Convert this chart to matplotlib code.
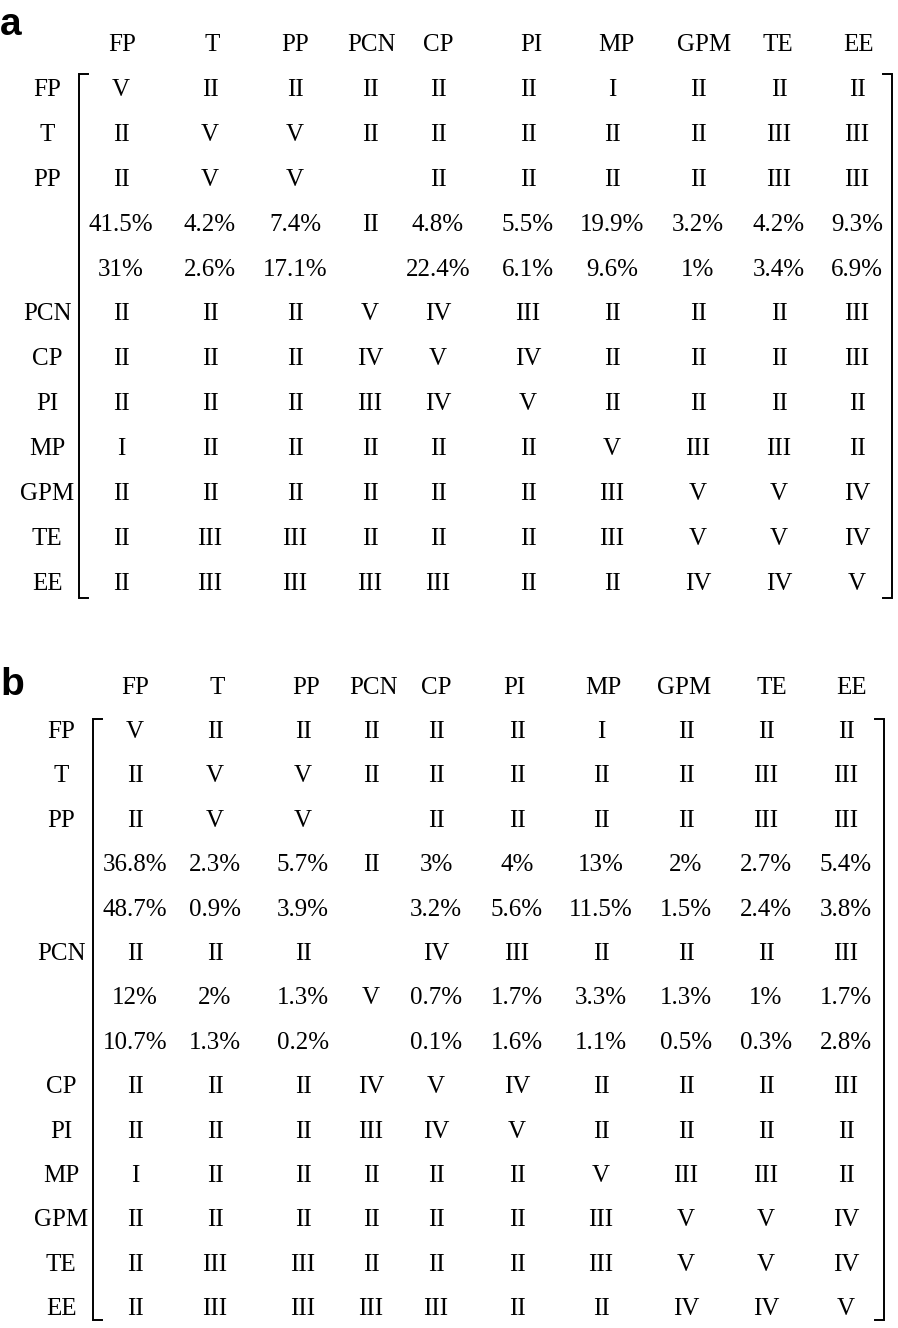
import matplotlib.pyplot as plt

# factor names (column headers / row labels)
factors = ['FP', 'T', 'PP', 'PCN', 'CP', 'PI', 'MP', 'GPM', 'TE', 'EE']

# interaction grades (same in both panels)
grades = [
    ['V', 'II', 'II', 'II', 'II', 'II', 'I', 'II', 'II', 'II'],
    ['II', 'V', 'V', 'II', 'II', 'II', 'II', 'II', 'III', 'III'],
    ['II', 'V', 'V', 'II', 'II', 'II', 'II', 'II', 'III', 'III'],
    ['II', 'II', 'II', 'V', 'IV', 'III', 'II', 'II', 'II', 'III'],
    ['II', 'II', 'II', 'IV', 'V', 'IV', 'II', 'II', 'II', 'III'],
    ['II', 'II', 'II', 'III', 'IV', 'V', 'II', 'II', 'II', 'II'],
    ['I', 'II', 'II', 'II', 'II', 'II', 'V', 'III', 'III', 'II'],
    ['II', 'II', 'II', 'II', 'II', 'II', 'III', 'V', 'V', 'IV'],
    ['II', 'III', 'III', 'II', 'II', 'II', 'III', 'V', 'V', 'IV'],
    ['II', 'III', 'III', 'III', 'III', 'II', 'II', 'IV', 'IV', 'V'],
]

# percentage lines under expanded rows (None = merged cell)
pp_a_1 = [41.5, 4.2, 7.4, None, 4.8, 5.5, 19.9, 3.2, 4.2, 9.3]
pp_a_2 = [31, 2.6, 17.1, None, 22.4, 6.1, 9.6, 1, 3.4, 6.9]

pp_b_1 = [36.8, 2.3, 5.7, None, 3, 4, 13, 2, 2.7, 5.4]
pp_b_2 = [48.7, 0.9, 3.9, None, 3.2, 5.6, 11.5, 1.5, 2.4, 3.8]
pcn_b_1 = [12, 2, 1.3, None, 0.7, 1.7, 3.3, 1.3, 1, 1.7]
pcn_b_2 = [10.7, 1.3, 0.2, None, 0.1, 1.6, 1.1, 0.5, 0.3, 2.8]

blocks_a = {'PP': [pp_a_1, pp_a_2]}
blocks_b = {'PP': [pp_b_1, pp_b_2], 'PCN': [pcn_b_1, pcn_b_2]}

# layout (pixels)
layout_a = dict(letter='a', letter_y=35, hdr_y=45, row0=90, dy=44.9, label_x=47,
                col_x=[121, 210, 295, 370, 438, 528, 612, 698, 779, 857],
                hdr_x=[122, 212, 295, 371, 438, 531, 616, 704, 778, 858],
                left=79, right=892, top=74, bottom=598)
layout_b = dict(letter='b', letter_y=695, hdr_y=688, row0=732, dy=44.4, label_x=61,
                col_x=[135, 215, 303, 371, 436, 517, 601, 686, 766, 846],
                hdr_x=[135, 217, 306, 373, 436, 514, 603, 684, 772, 851],
                left=93, right=884, top=719, bottom=1320)

W, H = 898, 1328
fig = plt.figure(figsize=(W / 100, H / 100), dpi=100)
ax = fig.add_axes([0, 0, 1, 1])
ax.set_xlim(0, W)
ax.set_ylim(H, 0)
ax.axis('off')

serif = dict(family='Liberation Serif', fontsize=18, ha='center', va='center')


def fmt(v):
    return f'{v:g}%'


def draw_panel(blocks, lay):
    ax.text(0, lay['letter_y'], lay['letter'], family='Liberation Sans',
            fontweight='bold', fontsize=28, ha='left', va='baseline')
    for name, x in zip(factors, lay['hdr_x']):
        ax.text(x, lay['hdr_y'], name, **serif)

    r = 0
    for i, name in enumerate(factors):
        y = lay['row0'] + r * lay['dy']
        ax.text(lay['label_x'], y, name, **serif)
        extra = blocks.get(name)
        for j, g in enumerate(grades[i]):
            if extra is not None and extra[0][j] is None:
                # merged cell: centred on the middle line of the block
                ax.text(lay['col_x'][j], y + lay['dy'], g, **serif)
            else:
                ax.text(lay['col_x'][j], y, g, **serif)
        r += 1
        if extra is not None:
            for line in extra:
                y = lay['row0'] + r * lay['dy']
                for j, v in enumerate(line):
                    if v is not None:
                        ax.text(lay['col_x'][j], y, fmt(v), **serif)
                r += 1

    tick = 9
    l, rr, t, b = lay['left'], lay['right'], lay['top'], lay['bottom']
    ax.plot([l + tick, l, l, l + tick], [t, t, b, b], color='black', lw=1.4,
            solid_joinstyle='miter')
    ax.plot([rr - tick, rr, rr, rr - tick], [t, t, b, b], color='black', lw=1.4,
            solid_joinstyle='miter')


draw_panel(blocks_a, layout_a)
draw_panel(blocks_b, layout_b)

fig.savefig('out.png', dpi=100)
